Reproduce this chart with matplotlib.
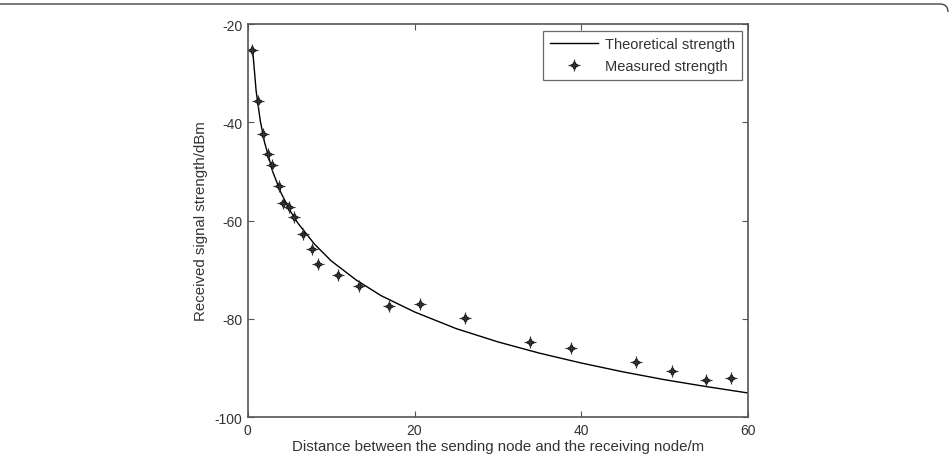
import numpy as np
import matplotlib
matplotlib.use("Agg")
import matplotlib.pyplot as plt
from matplotlib.path import Path
from matplotlib.patches import PathPatch

plt.rcParams['font.family'] = ['Liberation Sans', 'DejaVu Sans']
plt.rcParams['axes.unicode_minus'] = False

# Measured points
meas_d = [0.56, 1.24, 1.84, 2.44, 2.92, 3.72, 4.24, 4.96, 5.56, 6.64, 7.76, 8.44,
          10.76, 13.36, 16.9, 20.6, 26.0, 33.9, 38.8, 46.6, 50.9, 55.0, 58.0]
meas_rss = [-25.3, -35.6, -42.3, -46.5, -48.7, -52.9, -56.5, -57.3, -59.2, -62.8, -65.8, -68.9,
            -71.1, -73.4, -77.4, -76.9, -79.9, -84.8, -86.0, -88.8, -90.6, -92.4, -92.0]

# Theoretical curve, sampled off the figure
theo_d = [0.55, 1, 1.5, 2, 3, 4, 5, 6, 8, 10, 13, 16, 20, 25, 30, 35, 40, 45, 50, 55, 60]
theo_rss = [-24.6, -33.6, -39.7, -44.0, -50.1, -54.4, -57.8, -60.5, -64.8, -68.2, -72.1,
            -75.3, -78.6, -82.0, -84.7, -87.0, -89.0, -90.8, -92.4, -93.8, -95.1]

xticks = [0, 20, 40, 60]
yticks = [-100, -80, -60, -40, -20]

txt = '#333333'
fig = plt.figure(figsize=(9.53, 4.64), dpi=100)
ax = fig.add_axes([0.260, 0.099, 0.525, 0.847])

line, = ax.plot(theo_d, theo_rss, color='black', lw=1.0)
star, = ax.plot(meas_d, meas_rss, ls='none', marker=(4, 1, 0), ms=6.5, mew=0.5, color='black',
                mfc='#222222')
plus, = ax.plot(meas_d, meas_rss, ls='none', marker='+', ms=8, mew=0.8, color='#333333')

ax.set_xlim(0, 60)
ax.set_ylim(-100, -20)
ax.set_xticks(xticks)
ax.set_yticks(yticks)
ax.tick_params(direction='in', top=True, right=True, length=4, width=0.8,
               labelsize=10, labelcolor=txt, color='#555555', pad=4)
for s in ax.spines.values():
    s.set_color('#555555')
    s.set_linewidth(1.2)

ax.set_xlabel('Distance between the sending node and the receiving node/m', fontsize=10.8,
              color=txt, labelpad=2)
ax.set_ylabel('Received signal strength/dBm', fontsize=10.8, color=txt, labelpad=5)

leg = ax.legend([line, (star, plus)], ['Theoretical strength', 'Measured strength'],
                loc='upper right', fontsize=10.5, frameon=True, fancybox=False,
                borderaxespad=0.45, handlelength=3.3, labelspacing=0.55, borderpad=0.45,
                handletextpad=0.5)
leg.get_frame().set_edgecolor('#444444')
leg.get_frame().set_linewidth(0.9)
for t in leg.get_texts():
    t.set_color(txt)

# thin frame line across the top with a rounded corner on the right
w, h = 953, 464
verts = [(0, h - 5), (940, h - 5), (948, h - 5), (948, h - 13)]
codes = [Path.MOVETO, Path.LINETO, Path.CURVE3, Path.CURVE3]
frame = PathPatch(Path([(x / w, y / h) for x, y in verts], codes), transform=fig.transFigure,
                  fill=False, edgecolor='#444444', lw=1.0)
fig.add_artist(frame)

fig.savefig('out.png', dpi=100)
